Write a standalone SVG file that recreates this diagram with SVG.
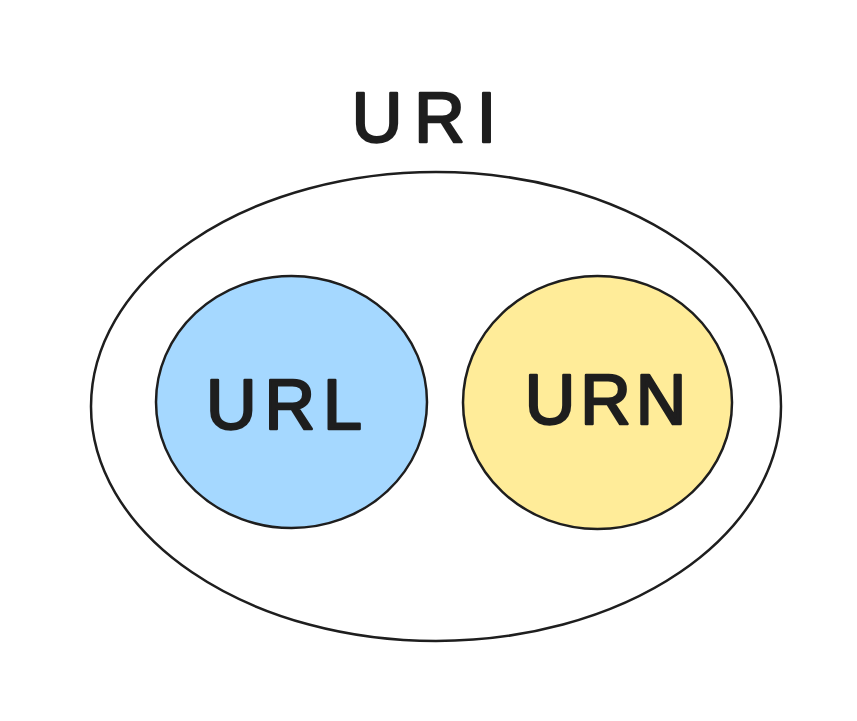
<svg xmlns="http://www.w3.org/2000/svg" width="857" height="721" viewBox="0 0 857 721">
<style>
.shape{stroke:#1e1e1e;stroke-width:2.5;}
.lbl{font-family:"Liberation Sans",Arial,sans-serif;font-size:70px;fill:#1e1e1e;stroke:#1e1e1e;stroke-width:2.5;stroke-linejoin:round;text-anchor:middle;}
</style>
<rect width="857" height="721" fill="#ffffff"/>
<g id="uri">
<ellipse class="shape" cx="436" cy="406.5" rx="345" ry="234.5" fill="none"/>
<text class="lbl" x="430" y="142" letter-spacing="12">URI</text>
</g>
<g id="url">
<ellipse class="shape" cx="291.5" cy="402" rx="135.5" ry="126" fill="#a5d8ff"/>
<text class="lbl" x="288" y="429" letter-spacing="8">URL</text>
</g>
<g id="urn">
<ellipse class="shape" cx="597.5" cy="402.5" rx="134.5" ry="126.5" fill="#ffec99"/>
<text class="lbl" x="608" y="424" letter-spacing="5">URN</text>
</g>
<g id="connectors"></g>
</svg>
